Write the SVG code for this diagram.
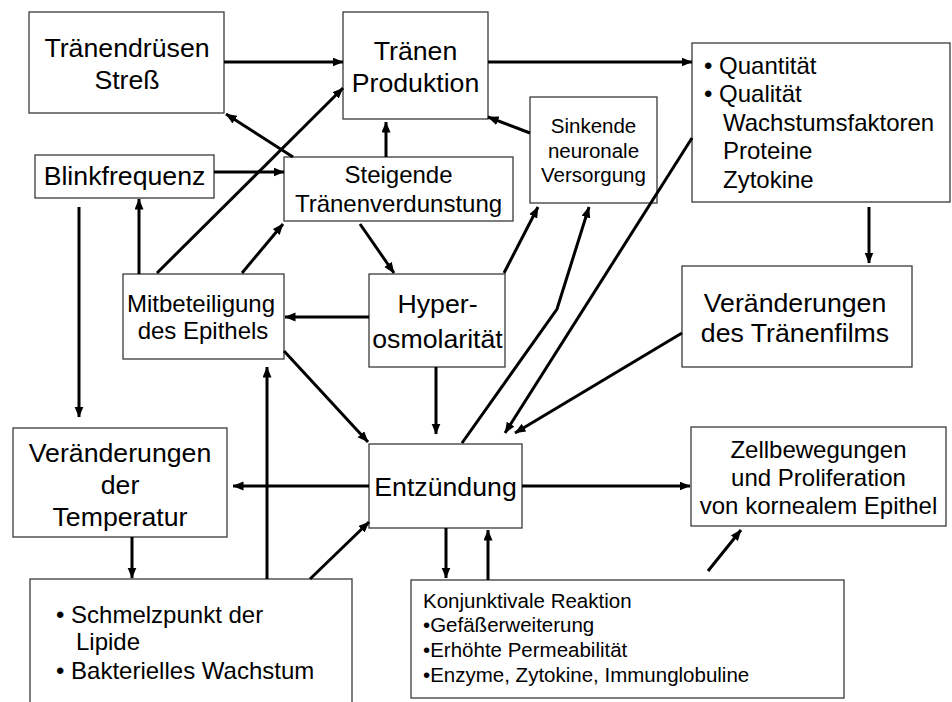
<svg xmlns="http://www.w3.org/2000/svg" width="952" height="702" viewBox="0 0 952 702">
<style>
.box{fill:#fff;stroke:#3a3a3a;stroke-width:1.3}
text{font-family:"Liberation Sans",Arial,sans-serif;fill:#000}
.l{font-size:26.7px}
.m{font-size:24px}
.s{font-size:20.5px}
.c{text-anchor:middle}
.con line,.con polyline{stroke:#000;stroke-width:3;fill:none;marker-end:url(#ah)}
</style>
<defs>
<marker id="ah" markerUnits="userSpaceOnUse" markerWidth="11" markerHeight="10" refX="10.5" refY="4.5" orient="auto">
<path d="M0,0 L11,4.5 L0,9 z" fill="#000"/>
</marker>
</defs>
<rect width="952" height="702" fill="#fff"/>

<g id="n-stress"><rect class="box" x="29" y="12" width="195" height="101"/>
<text class="l c" x="127" y="57">Tränendrüsen</text><text class="l c" x="127" y="89">Streß</text></g>

<g id="n-produktion"><rect class="box" x="343" y="12" width="145" height="107"/>
<text class="l c" x="415.5" y="60">Tränen</text><text class="l c" x="415.5" y="92">Produktion</text></g>

<g id="n-quant"><rect class="box" x="692" y="43" width="258" height="159"/>
<text class="m" x="704" y="74">• Quantität</text>
<text class="m" x="704" y="102">• Qualität</text>
<text class="m" x="723" y="131">Wachstumsfaktoren</text>
<text class="m" x="723" y="159">Proteine</text>
<text class="m" x="723" y="188">Zytokine</text></g>

<g id="n-sinkende"><rect class="box" x="530" y="97" width="127" height="106"/>
<text class="s c" x="593.5" y="133">Sinkende</text>
<text class="s c" x="593.5" y="157.5">neuronale</text>
<text class="s c" x="593.5" y="182">Versorgung</text></g>

<g id="n-blink"><rect class="box" x="35" y="155" width="179" height="43"/>
<text class="l c" x="124.5" y="185">Blinkfrequenz</text></g>

<g id="n-steigende"><rect class="box" x="284" y="157" width="229" height="64"/>
<text class="m c" x="398.5" y="183">Steigende</text>
<text class="m c" x="398.5" y="212">Tränenverdunstung</text></g>

<g id="n-mitbet"><rect class="box" x="123" y="274" width="161" height="85"/>
<text class="m c" x="201" y="312">Mitbeteiligung</text>
<text class="m c" x="203" y="339">des Epithels</text></g>

<g id="n-hyper"><rect class="box" x="369" y="274" width="136" height="93"/>
<text class="l c" x="437.5" y="313">Hyper-</text>
<text class="l c" x="437.5" y="348">osmolarität</text></g>

<g id="n-film"><rect class="box" x="682" y="266" width="230" height="101"/>
<text class="l c" x="795" y="312">Veränderungen</text>
<text class="l c" x="795" y="342">des Tränenfilms</text></g>

<g id="n-temp"><rect class="box" x="13" y="428" width="214" height="109"/>
<text class="l c" x="120" y="462">Veränderungen</text>
<text class="l c" x="120" y="494">der</text>
<text class="l c" x="120" y="526">Temperatur</text></g>

<g id="n-entz"><rect class="box" x="369" y="444" width="153" height="84"/>
<text class="l c" x="445.5" y="496">Entzündung</text></g>

<g id="n-zell"><rect class="box" x="691" y="427" width="255" height="99"/>
<text class="m c" x="818.5" y="458">Zellbewegungen</text>
<text class="m c" x="818.5" y="486">und Proliferation</text>
<text class="m c" x="818.5" y="514">von kornealem Epithel</text></g>

<g id="n-schmelz"><rect class="box" x="30" y="579" width="322" height="130"/>
<text class="m" x="56" y="623">• Schmelzpunkt der</text>
<text class="m" x="76" y="650">Lipide</text>
<text class="m" x="56" y="679">• Bakterielles Wachstum</text></g>

<g id="n-konj"><rect class="box" x="411" y="580" width="433" height="118"/>
<text class="s" x="423" y="608">Konjunktivale Reaktion</text>
<text class="s" x="423" y="632">•Gefäßerweiterung</text>
<text class="s" x="423" y="657">•Erhöhte Permeabilität</text>
<text class="s" x="423" y="682">•Enzyme, Zytokine, Immunglobuline</text></g>

<g id="connectors" class="con">
<line x1="224" y1="62" x2="343" y2="62"/>
<line x1="488" y1="62" x2="692" y2="62"/>
<line x1="293" y1="157" x2="226" y2="114"/>
<line x1="214" y1="172" x2="284" y2="172"/>
<line x1="157" y1="273" x2="343" y2="88"/>
<line x1="139" y1="274" x2="139" y2="199"/>
<line x1="242" y1="273" x2="283" y2="224"/>
<line x1="79" y1="207" x2="79" y2="417"/>
<line x1="386" y1="157" x2="386" y2="122"/>
<line x1="530" y1="133" x2="488" y2="117"/>
<line x1="360" y1="224" x2="394" y2="273"/>
<line x1="504" y1="273" x2="538" y2="207"/>
<polyline points="462,443 557,309 589,207"/>
<line x1="692" y1="138" x2="505" y2="433"/>
<line x1="682" y1="333" x2="515" y2="433"/>
<line x1="869" y1="207" x2="869" y2="263"/>
<line x1="369" y1="317" x2="285" y2="317"/>
<line x1="284" y1="351" x2="368" y2="442"/>
<line x1="436" y1="367" x2="436" y2="434"/>
<line x1="369" y1="486" x2="233" y2="486"/>
<line x1="267" y1="579" x2="267" y2="367"/>
<line x1="132" y1="537" x2="132" y2="578"/>
<line x1="310" y1="579" x2="369" y2="522"/>
<line x1="522" y1="486" x2="690" y2="486"/>
<line x1="446" y1="528" x2="446" y2="578"/>
<line x1="488" y1="580" x2="488" y2="530"/>
<line x1="708" y1="571" x2="741" y2="530"/>
</g>
</svg>
